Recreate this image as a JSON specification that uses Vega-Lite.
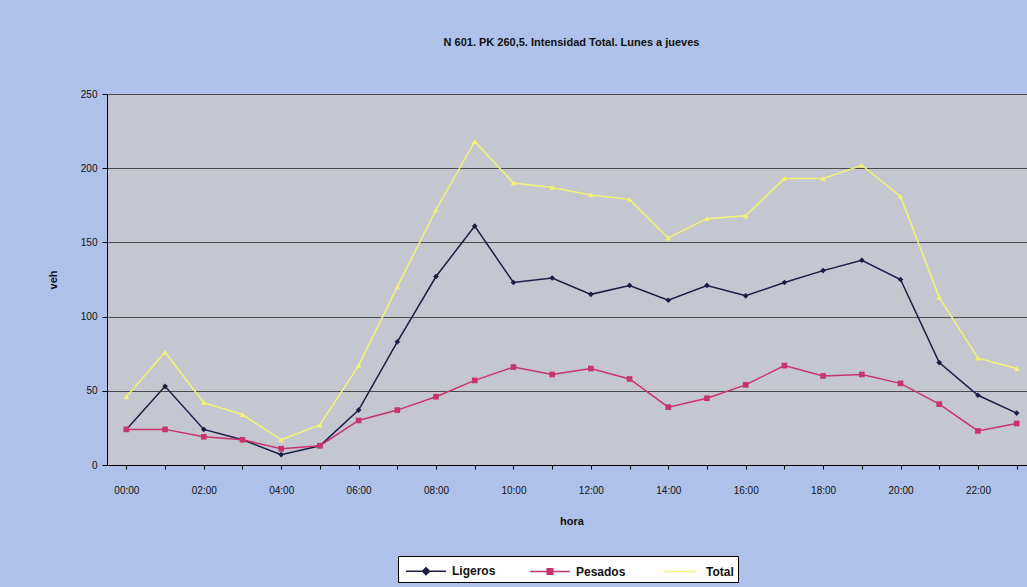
{
  "$schema": "https://vega.github.io/schema/vega-lite/v6.json",
  "width": 929,
  "height": 371,
  "autosize": {"type": "none"},
  "padding": {"left": 107, "top": 94, "right": -9, "bottom": 122},
  "background": "#aec1e8",
  "title": {
    "text": "N 601. PK 260,5. Intensidad Total. Lunes a jueves",
    "font": "Liberation Sans",
    "fontSize": 11,
    "fontWeight": "bold",
    "color": "#111111",
    "anchor": "middle",
    "offset": 41
  },
  "config": {
    "view": {"fill": "#c4c7cf", "stroke": "#666666"},
    "font": "Liberation Sans"
  },
  "data": {
    "values": [
      {"hora": "00:00", "serie": "Ligeros", "veh": 24},
      {"hora": "01:00", "serie": "Ligeros", "veh": 53},
      {"hora": "02:00", "serie": "Ligeros", "veh": 24},
      {"hora": "03:00", "serie": "Ligeros", "veh": 17},
      {"hora": "04:00", "serie": "Ligeros", "veh": 7},
      {"hora": "05:00", "serie": "Ligeros", "veh": 13},
      {"hora": "06:00", "serie": "Ligeros", "veh": 37},
      {"hora": "07:00", "serie": "Ligeros", "veh": 83},
      {"hora": "08:00", "serie": "Ligeros", "veh": 127},
      {"hora": "09:00", "serie": "Ligeros", "veh": 161},
      {"hora": "10:00", "serie": "Ligeros", "veh": 123},
      {"hora": "11:00", "serie": "Ligeros", "veh": 126},
      {"hora": "12:00", "serie": "Ligeros", "veh": 115},
      {"hora": "13:00", "serie": "Ligeros", "veh": 121},
      {"hora": "14:00", "serie": "Ligeros", "veh": 111},
      {"hora": "15:00", "serie": "Ligeros", "veh": 121},
      {"hora": "16:00", "serie": "Ligeros", "veh": 114},
      {"hora": "17:00", "serie": "Ligeros", "veh": 123},
      {"hora": "18:00", "serie": "Ligeros", "veh": 131},
      {"hora": "19:00", "serie": "Ligeros", "veh": 138},
      {"hora": "20:00", "serie": "Ligeros", "veh": 125},
      {"hora": "21:00", "serie": "Ligeros", "veh": 69},
      {"hora": "22:00", "serie": "Ligeros", "veh": 47},
      {"hora": "23:00", "serie": "Ligeros", "veh": 35},
      {"hora": "00:00", "serie": "Pesados", "veh": 24},
      {"hora": "01:00", "serie": "Pesados", "veh": 24},
      {"hora": "02:00", "serie": "Pesados", "veh": 19},
      {"hora": "03:00", "serie": "Pesados", "veh": 17},
      {"hora": "04:00", "serie": "Pesados", "veh": 11},
      {"hora": "05:00", "serie": "Pesados", "veh": 13},
      {"hora": "06:00", "serie": "Pesados", "veh": 30},
      {"hora": "07:00", "serie": "Pesados", "veh": 37},
      {"hora": "08:00", "serie": "Pesados", "veh": 46},
      {"hora": "09:00", "serie": "Pesados", "veh": 57},
      {"hora": "10:00", "serie": "Pesados", "veh": 66},
      {"hora": "11:00", "serie": "Pesados", "veh": 61},
      {"hora": "12:00", "serie": "Pesados", "veh": 65},
      {"hora": "13:00", "serie": "Pesados", "veh": 58},
      {"hora": "14:00", "serie": "Pesados", "veh": 39},
      {"hora": "15:00", "serie": "Pesados", "veh": 45},
      {"hora": "16:00", "serie": "Pesados", "veh": 54},
      {"hora": "17:00", "serie": "Pesados", "veh": 67},
      {"hora": "18:00", "serie": "Pesados", "veh": 60},
      {"hora": "19:00", "serie": "Pesados", "veh": 61},
      {"hora": "20:00", "serie": "Pesados", "veh": 55},
      {"hora": "21:00", "serie": "Pesados", "veh": 41},
      {"hora": "22:00", "serie": "Pesados", "veh": 23},
      {"hora": "23:00", "serie": "Pesados", "veh": 28},
      {"hora": "00:00", "serie": "Total", "veh": 46},
      {"hora": "01:00", "serie": "Total", "veh": 76},
      {"hora": "02:00", "serie": "Total", "veh": 42},
      {"hora": "03:00", "serie": "Total", "veh": 34},
      {"hora": "04:00", "serie": "Total", "veh": 17},
      {"hora": "05:00", "serie": "Total", "veh": 27},
      {"hora": "06:00", "serie": "Total", "veh": 67},
      {"hora": "07:00", "serie": "Total", "veh": 120},
      {"hora": "08:00", "serie": "Total", "veh": 172},
      {"hora": "09:00", "serie": "Total", "veh": 218},
      {"hora": "10:00", "serie": "Total", "veh": 190},
      {"hora": "11:00", "serie": "Total", "veh": 187},
      {"hora": "12:00", "serie": "Total", "veh": 182},
      {"hora": "13:00", "serie": "Total", "veh": 179},
      {"hora": "14:00", "serie": "Total", "veh": 153},
      {"hora": "15:00", "serie": "Total", "veh": 166},
      {"hora": "16:00", "serie": "Total", "veh": 168},
      {"hora": "17:00", "serie": "Total", "veh": 193},
      {"hora": "18:00", "serie": "Total", "veh": 193},
      {"hora": "19:00", "serie": "Total", "veh": 202},
      {"hora": "20:00", "serie": "Total", "veh": 181},
      {"hora": "21:00", "serie": "Total", "veh": 113},
      {"hora": "22:00", "serie": "Total", "veh": 72},
      {"hora": "23:00", "serie": "Total", "veh": 65}
    ]
  },
  "encoding": {
    "x": {
      "field": "hora",
      "type": "ordinal",
      "sort": null,
      "scale": {"paddingInner": 0, "paddingOuter": 0},
      "axis": {
        "title": "hora",
        "titleFontSize": 11,
        "titleFontWeight": "bold",
        "titleColor": "#111111",
        "titlePadding": 20,
        "labelAngle": 0,
        "labelFontSize": 10,
        "labelColor": "#111111",
        "labelPadding": 16,
        "labelExpr": "toNumber(slice(datum.value, 0, 2)) % 2 == 0 ? datum.value : ''",
        "bandPosition": 0,
        "tickColor": "#000000",
        "tickSize": 4,
        "domainColor": "#000000",
        "grid": false
      }
    },
    "y": {
      "field": "veh",
      "type": "quantitative",
      "scale": {"domain": [0, 250], "nice": false},
      "axis": {
        "title": "veh",
        "titleFontSize": 11,
        "titleFontWeight": "bold",
        "titleColor": "#111111",
        "titlePadding": 22,
        "values": [0, 50, 100, 150, 200, 250],
        "labelFontSize": 10,
        "labelColor": "#111111",
        "labelPadding": 5,
        "tickColor": "#000000",
        "tickSize": 5,
        "domainColor": "#000000",
        "grid": true,
        "gridColor": "#4a4a4a",
        "gridOpacity": 1,
        "gridWidth": 1
      }
    },
    "color": {
      "field": "serie",
      "type": "nominal",
      "scale": {
        "domain": ["Ligeros", "Pesados", "Total"],
        "range": ["#1c1c44", "#c8336e", "#f2f270"]
      },
      "legend": {
        "title": null,
        "orient": "none",
        "legendX": 291,
        "legendY": 462,
        "direction": "horizontal",
        "fillColor": "#ffffff",
        "strokeColor": "#000000",
        "padding": 4,
        "labelFontSize": 12,
        "labelFontWeight": "bold",
        "labelColor": "#111111",
        "symbolOffset": 13,
        "labelOffset": 15,
        "symbolSize": 400,
        "columnPadding": 30,
        "encode": {
          "symbols": {
            "update": {
              "shape": {"signal": "datum.value === 'Ligeros' ? 'M-2,0H2M0,-0.35L0.35,0L0,0.35L-0.35,0Z' : datum.value === 'Pesados' ? 'M-2,0H2M-0.28,-0.28H0.28V0.28H-0.28Z' : 'M-1.6,0H1.6'"},
              "stroke": {"signal": "scale('color', datum.value)"},
              "strokeWidth": {"value": 1.5}
            }
          }
        }
      }
    }
  },
  "layer": [
    {
      "mark": {"type": "line", "strokeWidth": 1.5}
    },
    {
      "mark": {"type": "point", "filled": true, "size": 32, "opacity": 1},
      "encoding": {
        "shape": {
          "condition": [
            {"test": "datum.serie === 'Ligeros'", "value": "diamond"},
            {"test": "datum.serie === 'Pesados'", "value": "square"}
          ],
          "value": "triangle-up"
        }
      }
    }
  ]
}
